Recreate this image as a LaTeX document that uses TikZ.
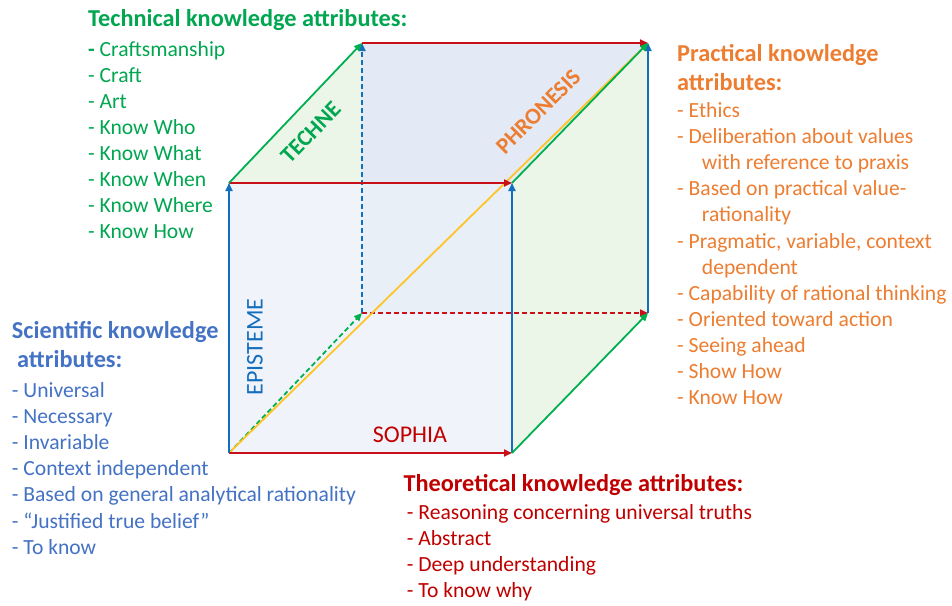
\documentclass[tikz,border=0pt]{standalone}
\usepackage{fontspec}
\setmainfont{Carlito}
\usetikzlibrary{arrows.meta}
\definecolor{tgreen}{RGB}{0,166,80}
\definecolor{agreen}{RGB}{0,176,80}
\definecolor{tblue}{RGB}{68,114,196}
\definecolor{ablue}{RGB}{20,110,190}
\definecolor{tred}{RGB}{192,0,0}
\definecolor{ared}{RGB}{200,16,24}
\definecolor{torange}{RGB}{237,125,49}
\definecolor{ayellow}{RGB}{255,196,40}
\definecolor{backblue}{RGB}{227,234,245}
\definecolor{frontblue}{RGB}{236,241,249}
\definecolor{facegreen}{RGB}{236,246,232}
\tikzset{
  edge/.style={line width=1.8pt, -{Triangle[length=8pt,width=7pt]}},
  hidden/.style={edge, dash pattern=on 5pt off 3pt},
  txt/.style={anchor=base west, inner sep=0pt, font=\fontsize{21.6}{26}\selectfont},
  ttl/.style={anchor=base west, inner sep=0pt, font=\fontsize{24.3}{26}\selectfont\bfseries},
  lbl/.style={inner sep=0pt, font=\fontsize{24}{26}\selectfont},
}
\begin{document}
\begin{tikzpicture}[x=1pt,y=-1pt]
\useasboundingbox (0,0) rectangle (952,605);
\fill[white] (0,0) rectangle (952,605);
% cube corners
\coordinate (A) at (229,453);
\coordinate (B) at (512,453);
\coordinate (C) at (229,183);
\coordinate (D) at (512,183);
\coordinate (E) at (362,313);
\coordinate (F) at (648,313);
\coordinate (G) at (362,43);
\coordinate (H) at (648,43);
% faces
\fill[facegreen] (C) -- (D) -- (H) -- (G) -- cycle;
\fill[backblue] (E) -- (F) -- (H) -- (G) -- cycle;
\fill[facegreen] (B) -- (F) -- (H) -- (D) -- cycle;
\fill[frontblue, fill opacity=0.75] (A) -- (B) -- (D) -- (C) -- cycle;
% hidden edges
\draw[hidden, ablue] (E) -- (G);
\draw[hidden, ared] (E) -- (F);
\draw[hidden, agreen] (A) -- (E);
% diagonal
\draw[edge, ayellow] (A) -- (H);
% visible edges
\draw[edge, ared] (A) -- (B);
\draw[edge, ared] (C) -- (D);
\draw[edge, ared] (G) -- (H);
\draw[edge, ablue] (A) -- (C);
\draw[edge, ablue] (B) -- (D);
\draw[edge, ablue] (F) -- (H);
\draw[edge, agreen] (B) -- (F);
\draw[edge, agreen] (C) -- (G);
\draw[edge, agreen] (D) -- (H);
% cube labels
\node[lbl, tgreen, font=\fontsize{23}{26}\selectfont\bfseries, rotate=46] (techne) at (310.7,132.7) {TECHNE};
\node[lbl, torange, font=\fontsize{23}{26}\selectfont\bfseries, rotate=45] (phronesis) at (538.3,111.7) {PHRONESIS};
\node[lbl, ablue, rotate=90] (episteme) at (255,347) {EPISTEME};
\node[lbl, tred] (sophia) at (410,435) {SOPHIA};
% technical
\node[ttl, tgreen] (techT) at (88,27) {Technical knowledge attributes:};
\node[txt, tgreen] (tech1) at (88,56) {{\bfseries -} Craftsmanship};
\foreach \t [count=\i from 2] in {Craft, Art, Know Who, Know What, Know When, Know Where, Know How}
  \node[txt, tgreen] (tech\i) at (88,{56+26.14*(\i-1)}) {- \t};
% practical
\node[ttl, torange] (pracT1) at (677,61.7) {Practical knowledge};
\node[ttl, torange] (pracT2) at (677,90) {attributes:};
\node[txt, torange] (prac1) at (677,117.3) {- Ethics};
\node[txt, torange] (prac2) at (677,143.45) {- Deliberation about values};
\node[txt, torange] (prac3) at (701.7,169.6) {with reference to praxis};
\node[txt, torange] (prac4) at (677,195.75) {- Based on practical value-};
\node[txt, torange] (prac5) at (701.7,221.9) {rationality};
\node[txt, torange] (prac6) at (677,248.05) {- Pragmatic, variable, context};
\node[txt, torange] (prac7) at (701.7,274.2) {dependent};
\node[txt, torange] (prac8) at (677,300.35) {- Capability of rational thinking};
\node[txt, torange] (prac9) at (677,326.5) {- Oriented toward action};
\node[txt, torange] (prac10) at (677,352.65) {- Seeing ahead};
\node[txt, torange] (prac11) at (677,378.8) {- Show How};
\node[txt, torange] (prac12) at (677,404.95) {- Know How};
% scientific
\node[ttl, tblue] (sciT1) at (11.7,338.3) {Scientific knowledge};
\node[ttl, tblue] (sciT2) at (17,367.3) {attributes:};
\foreach \t [count=\i from 1] in {Universal, Necessary, Invariable, Context independent, Based on general analytical rationality, “Justified true belief”, To know}
  \node[txt, tblue] (sci\i) at (11.7,{397.3+26.15*(\i-1)}) {- \t};
% theoretical
\node[ttl, tred] (theoT) at (403.3,491.7) {Theoretical knowledge attributes:};
\foreach \t [count=\i from 1] in {Reasoning concerning universal truths, Abstract, Deep understanding, To know why}
  \node[txt, tred] (theo\i) at (406.7,{519.3+26*(\i-1)}) {- \t};
\end{tikzpicture}
\end{document}
